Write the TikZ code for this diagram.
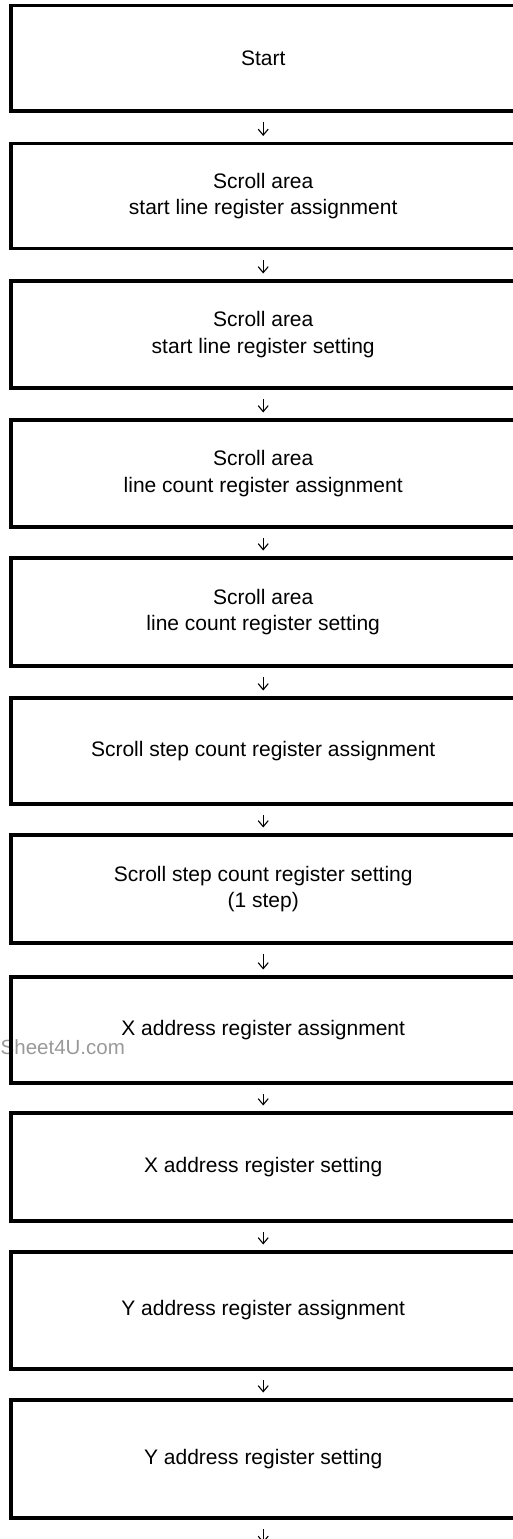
\documentclass[tikz,border=0pt]{standalone}
\usepackage{fontspec}
\setmainfont{Liberation Sans}
\usetikzlibrary{arrows.meta}
\begin{document}
\begin{tikzpicture}[x=1pt,y=-1pt,
  stepbox/.style={draw, line width=3.8pt, rectangle, inner sep=0pt, outer sep=0pt,
    minimum width=503.7pt, align=center, font=\fontsize{21}{26.7}\selectfont},
  flow/.style={line width=1.1pt, -{Straight Barb[length=6pt,width=10pt]},
    shorten <=11pt, shorten >=7.5pt},
  wmark/.style={text=black!40, font=\fontsize{20.5}{24}\selectfont, inner sep=0pt}]
\useasboundingbox (0,0) rectangle (513,1539);
\clip (0,0) rectangle (513,1539);
\node[wmark, anchor=west] (wm) at (0.5,1047) {Sheet4U.com};
\node[stepbox, minimum height=105.5pt] (b1) at (263.2,58.25) {Start};
\node[stepbox, minimum height=105pt] (b2) at (263.2,196) {Scroll area\\start line register assignment};
\node[stepbox, minimum height=107pt] (b3) at (263.2,334.5) {Scroll area\\start line register setting};
\node[stepbox, minimum height=107pt] (b4) at (263.2,473.5) {Scroll area\\line count register assignment};
\node[stepbox, minimum height=108pt] (b5) at (263.2,612) {Scroll area\\line count register setting};
\node[stepbox, minimum height=106pt] (b6) at (263.2,751) {Scroll step count register assignment};
\node[stepbox, minimum height=108pt] (b7) at (263.2,889) {Scroll step count register setting\\(1 step)};
\node[stepbox, minimum height=106pt] (b8) at (263.2,1030) {X address register assignment};
\node[stepbox, minimum height=108pt] (b9) at (263.2,1167) {X address register setting};
\node[stepbox, minimum height=117pt] (b10) at (263.2,1310.5) {Y address register assignment};
\node[stepbox, minimum height=118pt] (b11) at (263.2,1459) {Y address register setting};
\coordinate (end) at (263.2,1550.5);
\draw[flow] (b1.south) -- (b2.north);
\draw[flow] (b2.south) -- (b3.north);
\draw[flow] (b3.south) -- (b4.north);
\draw[flow] (b4.south) -- (b5.north);
\draw[flow] (b5.south) -- (b6.north);
\draw[flow] (b6.south) -- (b7.north);
\draw[flow] (b7.south) -- (b8.north);
\draw[flow] (b8.south) -- (b9.north);
\draw[flow] (b9.south) -- (b10.north);
\draw[flow] (b10.south) -- (b11.north);
\draw[flow] (b11.south) -- (end);
\end{tikzpicture}
\end{document}
